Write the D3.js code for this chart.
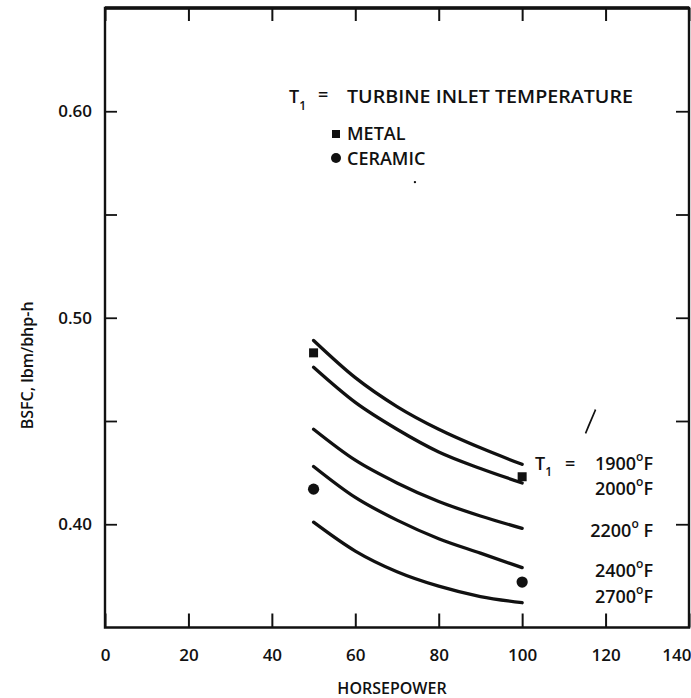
<!DOCTYPE html>
<html>
<head>
<meta charset="utf-8">
<script src="https://cdn.jsdelivr.net/npm/d3@7"></script>
<style>
  html, body { margin: 0; padding: 0; background: #fff; }
  svg { display: block; }
  text { font-family: "Open Sans", "DejaVu Sans", sans-serif; fill: #111; font-weight: 600; }
</style>
</head>
<body>
<svg id="chart" width="691" height="698"></svg>
<script>
// Horsepower points along each constant-temperature curve
const hpPoints = [50, 60, 70, 80, 90, 100];

// BSFC (lbm/bhp-h) for each turbine inlet temperature
const temps = ["1900", "2000", "2200", "2400", "2700"];
const bsfc1900 = [0.489, 0.471, 0.457, 0.446, 0.437, 0.429];
const bsfc2000 = [0.476, 0.459, 0.446, 0.435, 0.427, 0.420];
const bsfc2200 = [0.446, 0.431, 0.420, 0.411, 0.404, 0.398];
const bsfc2400 = [0.428, 0.413, 0.402, 0.393, 0.386, 0.379];
const bsfc2700 = [0.401, 0.387, 0.377, 0.370, 0.365, 0.362];
const seriesValues = [bsfc1900, bsfc2000, bsfc2200, bsfc2400, bsfc2700];

// Design points: metal and ceramic engines
const metalHp = [50, 100];
const metalBsfc = [0.483, 0.423];
const ceramicHp = [50, 100];
const ceramicBsfc = [0.417, 0.372];

// Axis ticks and labels
const xTicks = [0, 20, 40, 60, 80, 100, 120, 140];
const yTicks = [0.40, 0.45, 0.50, 0.55, 0.60];
const yLabelled = [0.40, 0.50, 0.60];

const svg = d3.select("#chart");
const plotL = 105, plotR = 689, plotT = 8, plotB = 627.5;

const x = d3.scaleLinear().domain([0, 140]).range([plotL, plotR]);
const y = d3.scaleLinear().domain([0.35, 0.65]).range([plotB, plotT]);

// Bottom axis: inward ticks, numbers below
const gx = svg.append("g").attr("transform", `translate(0,${plotB})`)
  .call(d3.axisBottom(x).tickValues(xTicks).tickSize(-14).tickPadding(21)
    .tickFormat(d3.format("d")));
gx.select(".domain").remove();
gx.selectAll(".tick line").attr("stroke", "#111").attr("stroke-width", 2);
gx.selectAll(".tick text").style("font-size", "17px").attr("fill", "#111");
gx.selectAll(".tick").filter(d => d === 140).select("text")
  .attr("text-anchor", "end").attr("x", 2);

// Top ticks
const gt = svg.append("g").attr("transform", `translate(0,${plotT})`)
  .call(d3.axisTop(x).tickValues(xTicks).tickSize(-13).tickFormat(""));
gt.select(".domain").remove();
gt.selectAll(".tick line").attr("stroke", "#111").attr("stroke-width", 2);

// Left axis
const gy = svg.append("g").attr("transform", `translate(${plotL},0)`)
  .call(d3.axisLeft(y).tickValues(yTicks).tickSize(-12).tickPadding(13)
    .tickFormat(d => yLabelled.some(v => Math.abs(v - d) < 1e-9) ? d3.format(".2f")(d) : ""));
gy.select(".domain").remove();
gy.selectAll(".tick line").attr("stroke", "#111").attr("stroke-width", 1.8);
gy.selectAll(".tick text").style("font-size", "17px").attr("fill", "#111");

// Right ticks
const gr = svg.append("g").attr("transform", `translate(${plotR},0)`)
  .call(d3.axisRight(y).tickValues(yTicks).tickSize(-13).tickFormat(""));
gr.select(".domain").remove();
gr.selectAll(".tick line").attr("stroke", "#111").attr("stroke-width", 1.8);

// Frame
svg.append("path")
  .attr("d", `M${plotL},${plotT}H${plotR}V${plotB}H${plotL}Z`)
  .attr("fill", "none").attr("stroke", "#111").attr("stroke-width", 2.4);
svg.append("line").attr("x1", plotL).attr("x2", plotR).attr("y1", plotT).attr("y2", plotT)
  .attr("stroke", "#111").attr("stroke-width", 3.4);

// Axis titles
svg.append("text").attr("x", 392).attr("y", 694).attr("text-anchor", "middle")
  .style("font-size", "16px").text("HORSEPOWER");
svg.append("text")
  .attr("transform", `translate(33,${(y(0.45) + y(0.50)) / 2 - 4}) rotate(-90)`)
  .attr("text-anchor", "middle").style("font-size", "16px")
  .text("BSFC, lbm/bhp-h");

// Constant-temperature curves
const line = d3.line().x((d, i) => x(hpPoints[i])).y(d => y(d)).curve(d3.curveMonotoneX);
svg.append("g").selectAll("path").data(seriesValues).join("path")
  .attr("d", d => line(d))
  .attr("fill", "none").attr("stroke", "#111").attr("stroke-width", 3.3)
  .attr("stroke-linecap", "round");

// Metal (square) and ceramic (circle) points
svg.append("g").selectAll("rect").data(metalBsfc).join("rect")
  .attr("x", (d, i) => x(metalHp[i]) - 4.5).attr("y", d => y(d) - 4.5)
  .attr("width", 9).attr("height", 9).attr("fill", "#111");
svg.append("g").selectAll("circle").data(ceramicBsfc).join("circle")
  .attr("cx", (d, i) => x(ceramicHp[i])).attr("cy", d => y(d))
  .attr("r", 5.6).attr("fill", "#111");

// Curve labels at the right-hand ends
const labelBaselines = [470, 495, 537, 577, 603];
const lbl = svg.append("g");
temps.forEach((t, i) => {
  const tx = lbl.append("text").attr("x", 653).attr("y", labelBaselines[i])
    .attr("text-anchor", "end").style("font-size", "18px");
  tx.append("tspan").text(t);
  tx.append("tspan").attr("dy", -9).style("font-size", "12px").text("o");
  tx.append("tspan").attr("dy", 9).text(t === "2200" ? "\u00a0F" : "F");
});
const tl = lbl.append("text").attr("x", 535).attr("y", 470).style("font-size", "18px");
tl.append("tspan").text("T");
tl.append("tspan").attr("dy", 6).style("font-size", "12px").text("1");
lbl.append("text").attr("x", 565).attr("y", 470).style("font-size", "18px").text("=");

// Legend
const lg = svg.append("g");
const l0 = lg.append("text").attr("x", 289).attr("y", 103).style("font-size", "18px");
l0.append("tspan").text("T");
l0.append("tspan").attr("dy", 7).style("font-size", "12px").text("1");
lg.append("text").attr("x", 318).attr("y", 101).style("font-size", "18px").text("=");
lg.append("text").attr("x", 347).attr("y", 103).style("font-size", "18px")
  .attr("textLength", 286).attr("lengthAdjust", "spacingAndGlyphs")
  .text("TURBINE INLET TEMPERATURE");
lg.append("rect").attr("x", 332).attr("y", 130).attr("width", 8).attr("height", 8).attr("fill", "#111");
lg.append("text").attr("x", 347).attr("y", 140).style("font-size", "18px").text("METAL");
lg.append("circle").attr("cx", 336).attr("cy", 158).attr("r", 5).attr("fill", "#111");
lg.append("text").attr("x", 347).attr("y", 165).style("font-size", "18px").text("CERAMIC");

// Small pen strokes on the sheet
svg.append("path")
  .attr("d", `M${x(117.6)},${y(0.4555)} L${x(115.2)},${y(0.444)} L${x(115.9)},${y(0.4475)} Z`)
  .attr("fill", "#111").attr("stroke", "#111").attr("stroke-width", 1.6);
svg.append("circle").attr("cx", x(74.3)).attr("cy", y(0.5657)).attr("r", 1.2).attr("fill", "#111");
</script>
</body>
</html>
